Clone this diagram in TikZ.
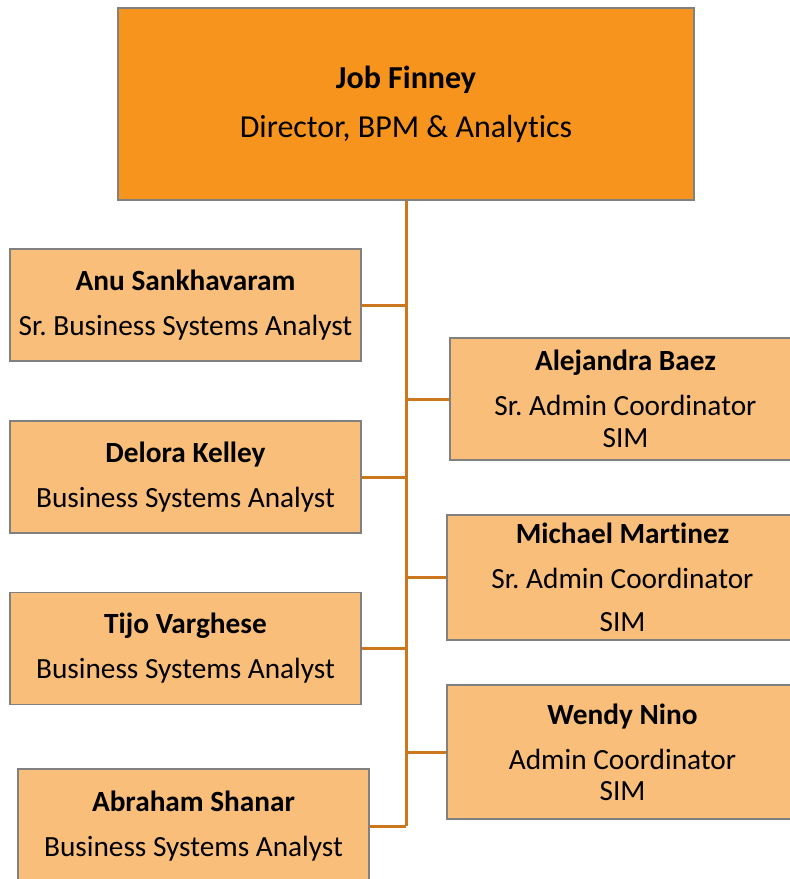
\documentclass[tikz,border=0pt]{standalone}
\usepackage{fontspec}
\setmainfont[Ligatures=NoCommon]{Carlito}
\usetikzlibrary{positioning}
\frenchspacing

\definecolor{bossfill}{RGB}{247,148,29}
\definecolor{stafffill}{RGB}{249,190,121}
\definecolor{linkcol}{RGB}{204,118,30}
\definecolor{edgegray}{RGB}{128,128,128}

\begin{document}
\begin{tikzpicture}[x=1pt,y=-1pt,on grid,
   boss/.style={draw=edgegray,line width=1.5pt,fill=bossfill,inner sep=2pt,
                minimum width=576pt,minimum height=192pt,align=center,
                font=\fontsize{32}{49}\selectfont},
   staff/.style={draw=edgegray,line width=1.5pt,fill=stafffill,inner sep=2pt,
                 minimum width=351pt,minimum height=112pt,align=center,
                 font=\fontsize{29.3}{45}\selectfont},
   link/.style={draw=linkcol,line width=3pt}]
   \clip (0,0) rectangle (790,879);

   \node[boss]  (job)  at (406,104) {\textbf{Job Finney}\\Director, BPM \& Analytics};

   \node[staff] (anu)  at (185.5,305)              {\textbf{Anu Sankhavaram}\\Sr. Business Systems Analyst};
   \node[staff] (delora)  [below=172pt of anu]     {\textbf{Delora Kelley}\\Business Systems Analyst};
   \node[staff] (tijo)    [below=171.5pt of delora] {\textbf{Tijo Varghese}\\Business Systems Analyst};
   \node[staff,minimum height=114pt] (abraham) [below right=177.5pt and 8pt of tijo] {\textbf{Abraham Shanar}\\Business Systems Analyst};

   \node[staff,minimum height=122pt] (alejandra) at (625.5,399) {\textbf{Alejandra Baez}\\Sr. Admin Coordinator\\[-13pt]SIM};
   \node[staff,minimum height=125pt] (michael) [below left=178.5pt and 3pt of alejandra] {\textbf{Michael Martinez}\\Sr. Admin Coordinator\\[-2pt]SIM};
   \node[staff,minimum height=134pt] (wendy)   [below=174.5pt of michael] {\textbf{Wendy Nino}\\Admin Coordinator\\[-14pt]SIM};

   \draw[link] (job.south) -- (job.south |- abraham.east);
   \path[link]
    (anu.east)       edge (anu.east -| job.south)
    (delora.east)    edge (delora.east -| job.south)
    (tijo.east)      edge (tijo.east -| job.south)
    (abraham.east)   edge (abraham.east -| job.south)
    (alejandra.west) edge (alejandra.west -| job.south)
    (michael.west)   edge (michael.west -| job.south)
    (wendy.west)     edge (wendy.west -| job.south);
\end{tikzpicture}
\end{document}
